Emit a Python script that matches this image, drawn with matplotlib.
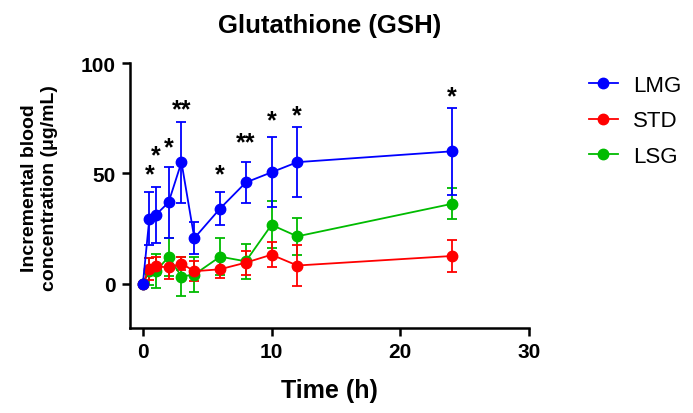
import numpy as np
import matplotlib
matplotlib.use("Agg")
import matplotlib.pyplot as plt

plt.rcParams["font.family"] = ["Liberation Sans", "DejaVu Sans"]

# time points (h)
time_h = [0, 0.5, 1, 2, 3, 4, 6, 8, 10, 12, 24]

# mean values (µg/mL) and error bars
lmg = [0, 29.4, 31.2, 36.9, 55.1, 20.7, 34.1, 45.9, 50.5, 55.1, 60.0]
lmg_err = [0, 12, 12.5, 16, 18.3, 7.4, 7.5, 9.4, 15.8, 16, 19.7]
std = [0, 6.8, 8.0, 7.4, 9.2, 5.7, 6.6, 9.6, 13.2, 8.3, 12.6]
std_err = [0, 5, 4, 5, 3, 4.6, 4, 5.4, 5.7, 9.5, 7.3]
lsg = [0, 5.7, 5.7, 12.2, 3.3, 4.2, 12.3, 10.2, 26.7, 21.5, 36.2]
lsg_err = [0, 6, 7.7, 8.5, 8.7, 8, 8.4, 7.8, 10.6, 8.5, 7]

# significance marks
sig_x = [0.5, 1, 2, 3, 6, 8, 10, 12, 24]
sig_y = [51.5, 60, 64, 81, 51.5, 66, 76, 78.5, 86.8]
sig_txt = ["*", "*", "*", "**", "*", "**", "*", "*", "*"]

fig = plt.figure(figsize=(6.93, 4.14), dpi=100)
ax = fig.add_axes([0.1876, 0.2053, 0.5755, 0.6401])

series = [
    ("LMG", lmg, lmg_err, "#0000ff"),
    ("STD", std, std_err, "#ff0000"),
    ("LSG", lsg, lsg_err, "#00bb00"),
]
for name, y, e, c in reversed(series):
    ax.errorbar(time_h, y, yerr=e, color=c, marker="o", markersize=7.5,
                lw=1.3, elinewidth=1.3, capsize=3.5, capthick=1.3, label=name)

for x, y, t in zip(sig_x, sig_y, sig_txt):
    ax.text(x, y - 2, t, ha="center", va="center", fontsize=18, fontweight="bold")

ax.set_xlim(-1, 30)
ax.set_ylim(-20, 100)
ax.set_xticks([0, 10, 20, 30])
ax.set_yticks([0, 50, 100])
for s in ["top", "right"]:
    ax.spines[s].set_visible(False)
for s in ["left", "bottom"]:
    ax.spines[s].set_linewidth(1.8)
ax.tick_params(width=1.8, length=6, labelsize=15, pad=4)
for lab in ax.get_xticklabels() + ax.get_yticklabels():
    lab.set_fontweight("bold")

ax.set_xlabel("Time (h)", fontsize=18, fontweight="bold", labelpad=12)
ax.set_ylabel("Incremental blood\nconcentration (μg/mL)", fontsize=14,
              fontweight="bold", linespacing=1.25)
ax.yaxis.set_label_coords(-0.18, 0.53)
ax.set_title("Glutathione (GSH)", fontsize=18.5, fontweight="bold", pad=22)

handles, labels = ax.get_legend_handles_labels()
handles = handles[::-1]
labels = labels[::-1]
handles = [h[0] for h in handles]
ax.legend(handles, labels, loc="upper left", bbox_to_anchor=(1.1, 1.03),
          frameon=False, fontsize=16, handlelength=1.3, handletextpad=0.7,
          labelspacing=0.65)

fig.savefig("out.png", dpi=100)
